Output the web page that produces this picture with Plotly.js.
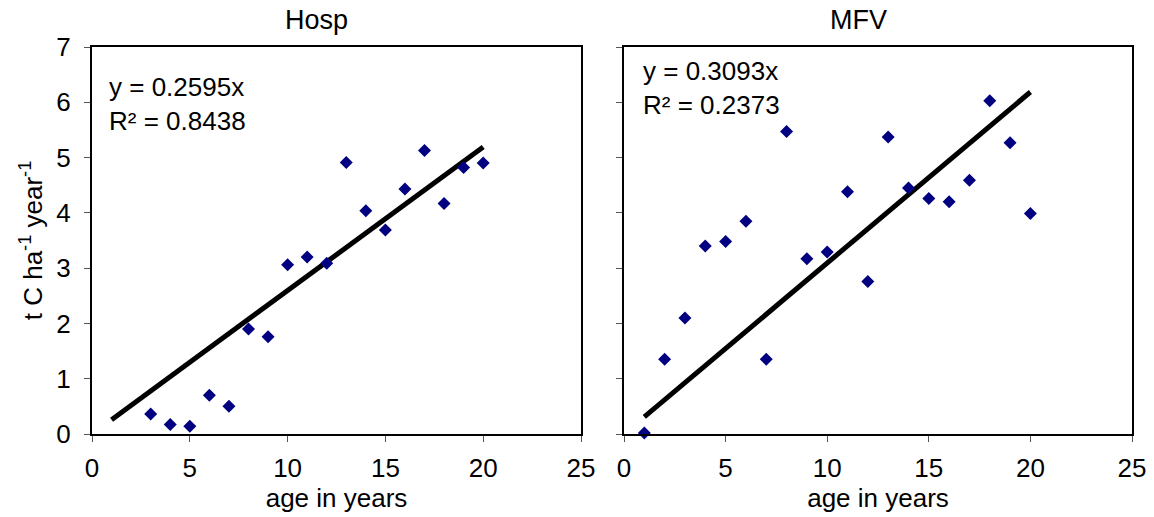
<!DOCTYPE html>
<html>
<head>
<meta charset="utf-8">
<script src="https://cdn.plot.ly/plotly-3.0.1.min.js"></script>
<style>html,body{margin:0;padding:0;background:#fff;}#chart{width:1154px;height:517px;}</style>
</head>
<body>
<div id="chart"></div>
<script>
// ---- data ----
const hospAge = [3, 4, 5, 6, 7, 8, 9, 10, 11, 12, 13, 14, 15, 16, 17, 18, 19, 20];
const hospC   = [0.36, 0.17, 0.14, 0.70, 0.50, 1.90, 1.76, 3.06, 3.20, 3.09, 4.91, 4.04, 3.69, 4.43, 5.13, 4.17, 4.82, 4.90];
const mfvAge  = [1, 2, 3, 4, 5, 6, 7, 8, 9, 10, 11, 12, 13, 14, 15, 16, 17, 18, 19, 20];
const mfvC    = [0.02, 1.35, 2.10, 3.40, 3.48, 3.85, 1.35, 5.47, 3.17, 3.29, 4.38, 2.76, 5.37, 4.45, 4.26, 4.20, 4.59, 6.03, 5.27, 3.99];
const trendX  = [1, 20];
const hospSlope = 0.2595, hospR2 = 0.8438;
const mfvSlope  = 0.3093, mfvR2  = 0.2373;
const panelTitles = ["Hosp", "MFV"];
const xTicks = [0, 5, 10, 15, 20, 25];
const yTicks = [0, 1, 2, 3, 4, 5, 6, 7];

const FONT = "'Liberation Sans Narrow', 'Liberation Sans', Arial, sans-serif";
const NAVY = "#000080";

const pts = (x, y, xa, ya) => ({
  x: x, y: y, xaxis: xa, yaxis: ya, type: "scatter", mode: "markers",
  cliponaxis: false,
  marker: {symbol: "diamond", size: 10, color: NAVY},
  hoverinfo: "x+y", showlegend: false
});
const trend = (slope, xa, ya) => ({
  x: trendX, y: trendX.map(v => slope * v), xaxis: xa, yaxis: ya,
  type: "scatter", mode: "lines", cliponaxis: false,
  line: {color: "#000", width: 5}, hoverinfo: "skip", showlegend: false
});

const data = [
  trend(hospSlope, "x", "y"),
  pts(hospAge, hospC, "x", "y"),
  trend(mfvSlope, "x2", "y2"),
  pts(mfvAge, mfvC, "x2", "y2")
];

const W = 1154, H = 517;
const xAxisBase = {
  range: [0, 25], tickvals: xTicks, ticks: "outside", ticklen: 6, tickwidth: 1, tickcolor: "#555",
  showline: true, mirror: true, linecolor: "#000", linewidth: 2, showgrid: false, zeroline: false,
  tickfont: {family: FONT, size: 26, color: "#000"}, ticklabelstandoff: 4,
  title: {text: "age in years", font: {family: FONT, size: 26, color: "#000"}, standoff: 4},
  automargin: false, fixedrange: true
};
const yAxisBase = {
  range: [0, 7], tickvals: yTicks, ticks: "outside", ticklen: 6, tickwidth: 1, tickcolor: "#555",
  showline: true, mirror: true, linecolor: "#000", linewidth: 2, showgrid: false, zeroline: false,
  tickfont: {family: FONT, size: 26, color: "#000"}, ticklabelstandoff: 8,
  automargin: false, fixedrange: true
};

const layout = {
  width: W, height: H,
  margin: {l: 0, r: 0, t: 0, b: 0},
  paper_bgcolor: "#fff", plot_bgcolor: "#fff",
  font: {family: FONT, color: "#000"},
  xaxis: Object.assign({}, xAxisBase, {domain: [92 / W, 581 / W], anchor: "y"}),
  yaxis: Object.assign({}, yAxisBase, {domain: [1 - 434 / H, 1 - 47 / H], anchor: "x",
    title: {text: "t C ha<sup>-1</sup> year<sup>-1</sup>", font: {family: FONT, size: 26, color: "#000"}, standoff: 6}}),
  xaxis2: Object.assign({}, xAxisBase, {domain: [624 / W, 1132 / W], anchor: "y2"}),
  yaxis2: Object.assign({}, yAxisBase, {domain: [1 - 434 / H, 1 - 47 / H], anchor: "x2", showticklabels: false}),
  annotations: [
    {text: panelTitles[0], xref: "paper", yref: "paper", x: 316 / W, y: 1 - 20 / H, xanchor: "center", yanchor: "middle",
     showarrow: false, font: {family: FONT, size: 27, color: "#000"}},
    {text: panelTitles[1], xref: "paper", yref: "paper", x: 858 / W, y: 1 - 20 / H, xanchor: "center", yanchor: "middle",
     showarrow: false, font: {family: FONT, size: 27, color: "#000"}},
    {text: "y = " + hospSlope + "x<br>R\u00B2 = " + hospR2, xref: "paper", yref: "paper",
     x: 107 / W, y: 1 - 104 / H, xanchor: "left", yanchor: "middle", align: "left",
     showarrow: false, font: {family: FONT, size: 26, color: "#000"}},
    {text: "y = " + mfvSlope + "x<br>R\u00B2 = " + mfvR2, xref: "paper", yref: "paper",
     x: 641 / W, y: 1 - 88 / H, xanchor: "left", yanchor: "middle", align: "left",
     showarrow: false, font: {family: FONT, size: 26, color: "#000"}}
  ]
};

Plotly.newPlot("chart", data, layout, {staticPlot: true, displayModeBar: false});
</script>
</body>
</html>
